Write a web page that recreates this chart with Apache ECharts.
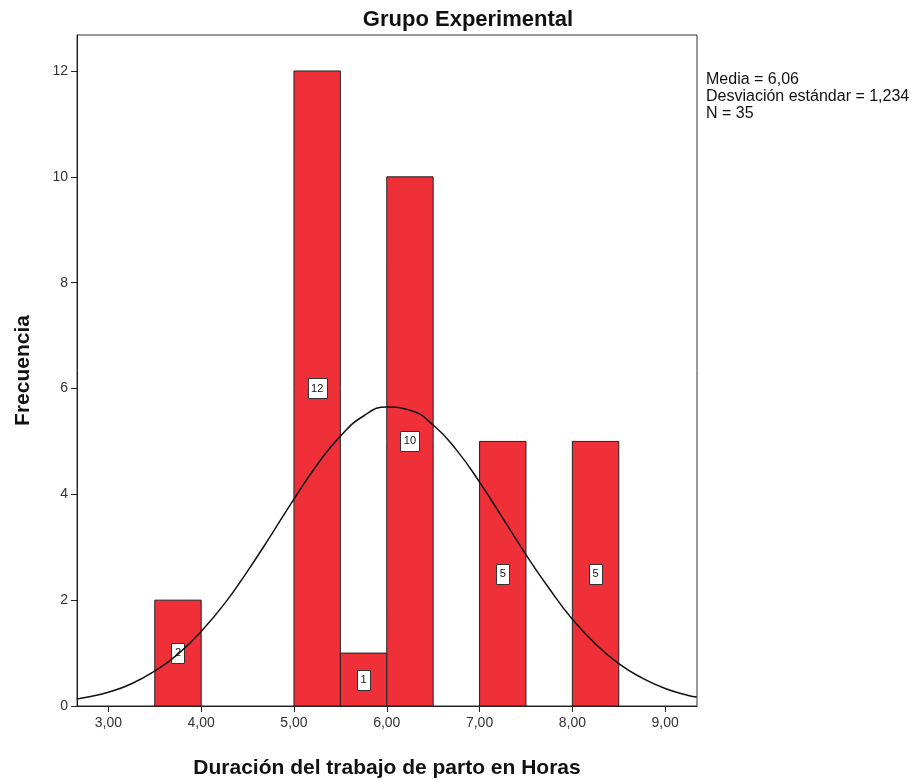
<!DOCTYPE html>
<html>
<head>
<meta charset="utf-8">
<script src="https://cdn.jsdelivr.net/npm/echarts@6/dist/echarts.min.js"></script>
<style>
  html, body { margin: 0; padding: 0; background: #fff; }
  #main { width: 917px; height: 780px; }
</style>
</head>
<body>
<div id="main"></div>
<script>
// histogram bins (hours) and counts
var binStart = [3.5, 5.0, 5.5, 6.0, 7.0, 8.0]
var binEnd = [4.0, 5.5, 6.0, 6.5, 7.5, 8.5]
var counts = [2, 12, 1, 10, 5, 5]

// tick marks on the hours axis
var xTicks = [3, 4, 5, 6, 7, 8, 9]

// normal curve
var curveX = [2.66, 2.75, 3.0, 3.25, 3.5, 3.75, 4.0, 4.25, 4.5, 4.75, 5.0, 5.25, 5.5, 5.75, 6.0,
  6.25, 6.5, 6.75, 7.0, 7.25, 7.5, 7.75, 8.0, 8.25, 8.5, 8.75, 9.0, 9.25, 9.34]
var curveY = [0.13, 0.16, 0.26, 0.42, 0.66, 0.98, 1.41, 1.93, 2.55, 3.22, 3.91, 4.56, 5.10, 5.48, 5.65,
  5.59, 5.31, 4.84, 4.23, 3.55, 2.86, 2.22, 1.64, 1.17, 0.80, 0.53, 0.33, 0.20, 0.17]

var statsLines = ['Media = 6,06', 'Desviación estándar = 1,234', 'N = 35']

var font = "'Liberation Sans Narrow', 'Liberation Sans', Arial, sans-serif"

var barData = binStart.map(function (s, i) { return [s, binEnd[i], counts[i]] })
var lineData = curveX.map(function (x, i) { return [x, curveY[i]] })

var chart = echarts.init(document.getElementById('main'))

chart.setOption({
  animation: false,
  title: {
    text: 'Grupo Experimental',
    left: 463,
    textAlign: 'center',
    top: 4,
    textStyle: { fontFamily: font, fontSize: 22, fontWeight: 'bold', color: '#111' }
  },
  graphic: [{
    type: 'text',
    left: 706,
    top: 71,
    style: {
      text: statsLines.join('\n'),
      font: '16px ' + font,
      fill: '#111',
      lineHeight: 17
    }
  }],
  grid: {
    left: 77, right: 220, top: 35, bottom: 74,
    outerBoundsMode: 'none',
    show: true, borderColor: '#333', borderWidth: 1
  },
  xAxis: {
    type: 'value',
    min: 2.662, max: 9.343,
    name: 'Duración del trabajo de parto en Horas',
    nameLocation: 'middle',
    nameGap: 52,
    nameTextStyle: { fontFamily: font, fontSize: 21, fontWeight: 'bold', color: '#111' },
    axisLine: { lineStyle: { color: '#222' } },
    axisTick: { length: 6, customValues: xTicks, lineStyle: { color: '#222' } },
    splitLine: { show: false },
    axisLabel: {
      fontFamily: font, fontSize: 14, color: '#333', margin: 10,
      customValues: xTicks,
      formatter: function (v) { return v.toFixed(2).replace('.', ',') }
    }
  },
  yAxis: {
    type: 'value',
    min: 0, max: 12.68,
    interval: 2,
    name: 'Frecuencia',
    nameLocation: 'middle',
    nameGap: 43,
    nameTextStyle: { fontFamily: font, fontSize: 21, fontWeight: 'bold', color: '#111' },
    axisLine: { show: true, lineStyle: { color: '#222' } },
    axisTick: { show: true, length: 6, lineStyle: { color: '#222' } },
    splitLine: { show: false },
    axisLabel: {
      fontFamily: font, fontSize: 14, color: '#333', margin: 9,
      showMaxLabel: false,
      formatter: function (v) { return Math.abs(v - Math.round(v)) > 1e-6 ? '' : String(v) }
    }
  },
  series: [{
    type: 'custom',
    data: barData,
    z: 2,
    renderItem: function (params, api) {
      var p0 = api.coord([api.value(0), api.value(2)])
      var p1 = api.coord([api.value(1), 0])
      var mid = api.coord([(api.value(0) + api.value(1)) / 2, api.value(2) / 2])
      var txt = String(api.value(2))
      var w = txt.length > 1 ? 19 : 13
      var h = 20
      return {
        type: 'group',
        children: [{
          type: 'rect',
          shape: { x: p0[0], y: p0[1], width: p1[0] - p0[0], height: p1[1] - p0[1] },
          style: { fill: '#ef3039', stroke: '#222', lineWidth: 1 }
        }, {
          type: 'rect',
          shape: { x: Math.round(mid[0] - w / 2) + 0.5, y: Math.round(mid[1] - h / 2) + 0.5, width: w, height: h },
          style: { fill: '#fff', stroke: '#333', lineWidth: 1 }
        }, {
          type: 'text',
          x: mid[0], y: mid[1],
          style: {
            text: txt, font: '11px ' + font, fill: '#111',
            align: 'center', verticalAlign: 'middle'
          }
        }]
      }
    }
  }, {
    type: 'line',
    data: lineData,
    smooth: true,
    symbol: 'none',
    z: 3,
    lineStyle: { color: '#111', width: 1.5 }
  }]
})
</script>
</body>
</html>
